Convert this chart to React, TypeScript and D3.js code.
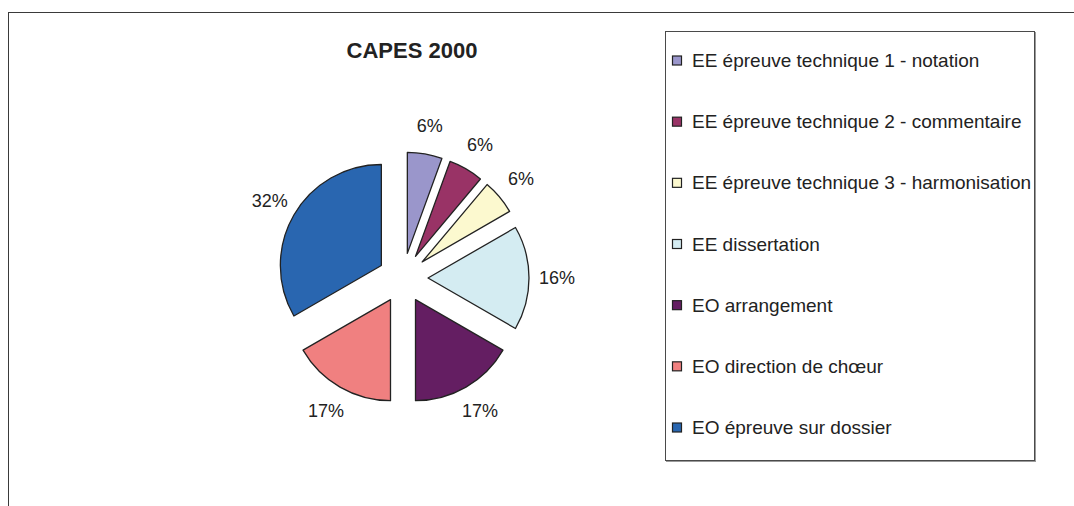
import React from 'react';
import * as d3 from 'd3';

// data
const categories = [
    'EE épreuve technique 1 - notation',
    'EE épreuve technique 2 - commentaire',
    'EE épreuve technique 3 - harmonisation',
    'EE dissertation',
    'EO arrangement',
    'EO direction de chœur',
    'EO épreuve sur dossier',
];
const shares = [1, 1, 1, 3, 3, 3, 6];
const pctLabels = ['6%', '6%', '6%', '16%', '17%', '17%', '32%'];
const colors = ['#9a96cb', '#993366', '#fcf9cf', '#d4ecf2', '#641e62', '#f08080', '#2966b0'];

const FONT = 'Arial, "Liberation Sans", sans-serif';

const App = () => {
    const width = 1074;
    const height = 506;
    const cx = 403;
    const cy = 278;
    const radius = 101;
    const explode = 25;
    const labelRadius = 154;

    const pie = d3.pie<number>().sort(null).value(d => d);
    const arcs = pie(shares);
    const arc = d3.arc<d3.PieArcDatum<number>>().innerRadius(0).outerRadius(radius);

    const legendY = d3.scaleLinear().domain([0, categories.length - 1]).range([60.5, 427.5]);

    return (
        <svg width={width} height={height} style={{ position: 'absolute', left: 0, top: 0, background: '#fff' }}>
            <rect x={8.5} y={12.5} width={1100} height={600} fill="#fff" stroke="#3a3a3a" strokeWidth={1} />

            <text x={412} y={58} textAnchor="middle" fontFamily={FONT} fontWeight="bold" fontSize={22} fill="#222">
                CAPES 2000
            </text>

            <g transform={`translate(${cx}, ${cy})`}>
                {arcs.map((a, i) => {
                    const mid = (a.startAngle + a.endAngle) / 2;
                    const dx = Math.sin(mid) * explode;
                    const dy = -Math.cos(mid) * explode;
                    return (
                        <path
                            key={i}
                            d={arc(a) || ''}
                            transform={`translate(${dx}, ${dy})`}
                            fill={colors[i]}
                            stroke="#222"
                            strokeWidth={1.3}
                            strokeLinejoin="round"
                        />
                    );
                })}
                {arcs.map((a, i) => {
                    const mid = (a.startAngle + a.endAngle) / 2;
                    return (
                        <text
                            key={i}
                            x={Math.sin(mid) * labelRadius}
                            y={-Math.cos(mid) * labelRadius}
                            textAnchor="middle"
                            dominantBaseline="central"
                            fontFamily={FONT}
                            fontSize={18}
                            fill="#222"
                        >
                            {pctLabels[i]}
                        </text>
                    );
                })}
            </g>

            <rect x={666.5} y={32.5} width={369} height={429} fill="none" stroke="#9a9a9a" strokeWidth={1} />
            <rect x={665.5} y={31.5} width={369} height={429} fill="#fff" stroke="#4a4a4a" strokeWidth={1} />
            {categories.map((c, i) => (
                <g key={c} transform={`translate(0, ${legendY(i)})`}>
                    <rect x={672.5} y={-4.5} width={9} height={9} fill={colors[i]} stroke="#222" strokeWidth={1.2} />
                    <text x={692} y={0} dominantBaseline="central" fontFamily={FONT} fontSize={19} fill="#222">
                        {c}
                    </text>
                </g>
            ))}
        </svg>
    );
};

export default App;
